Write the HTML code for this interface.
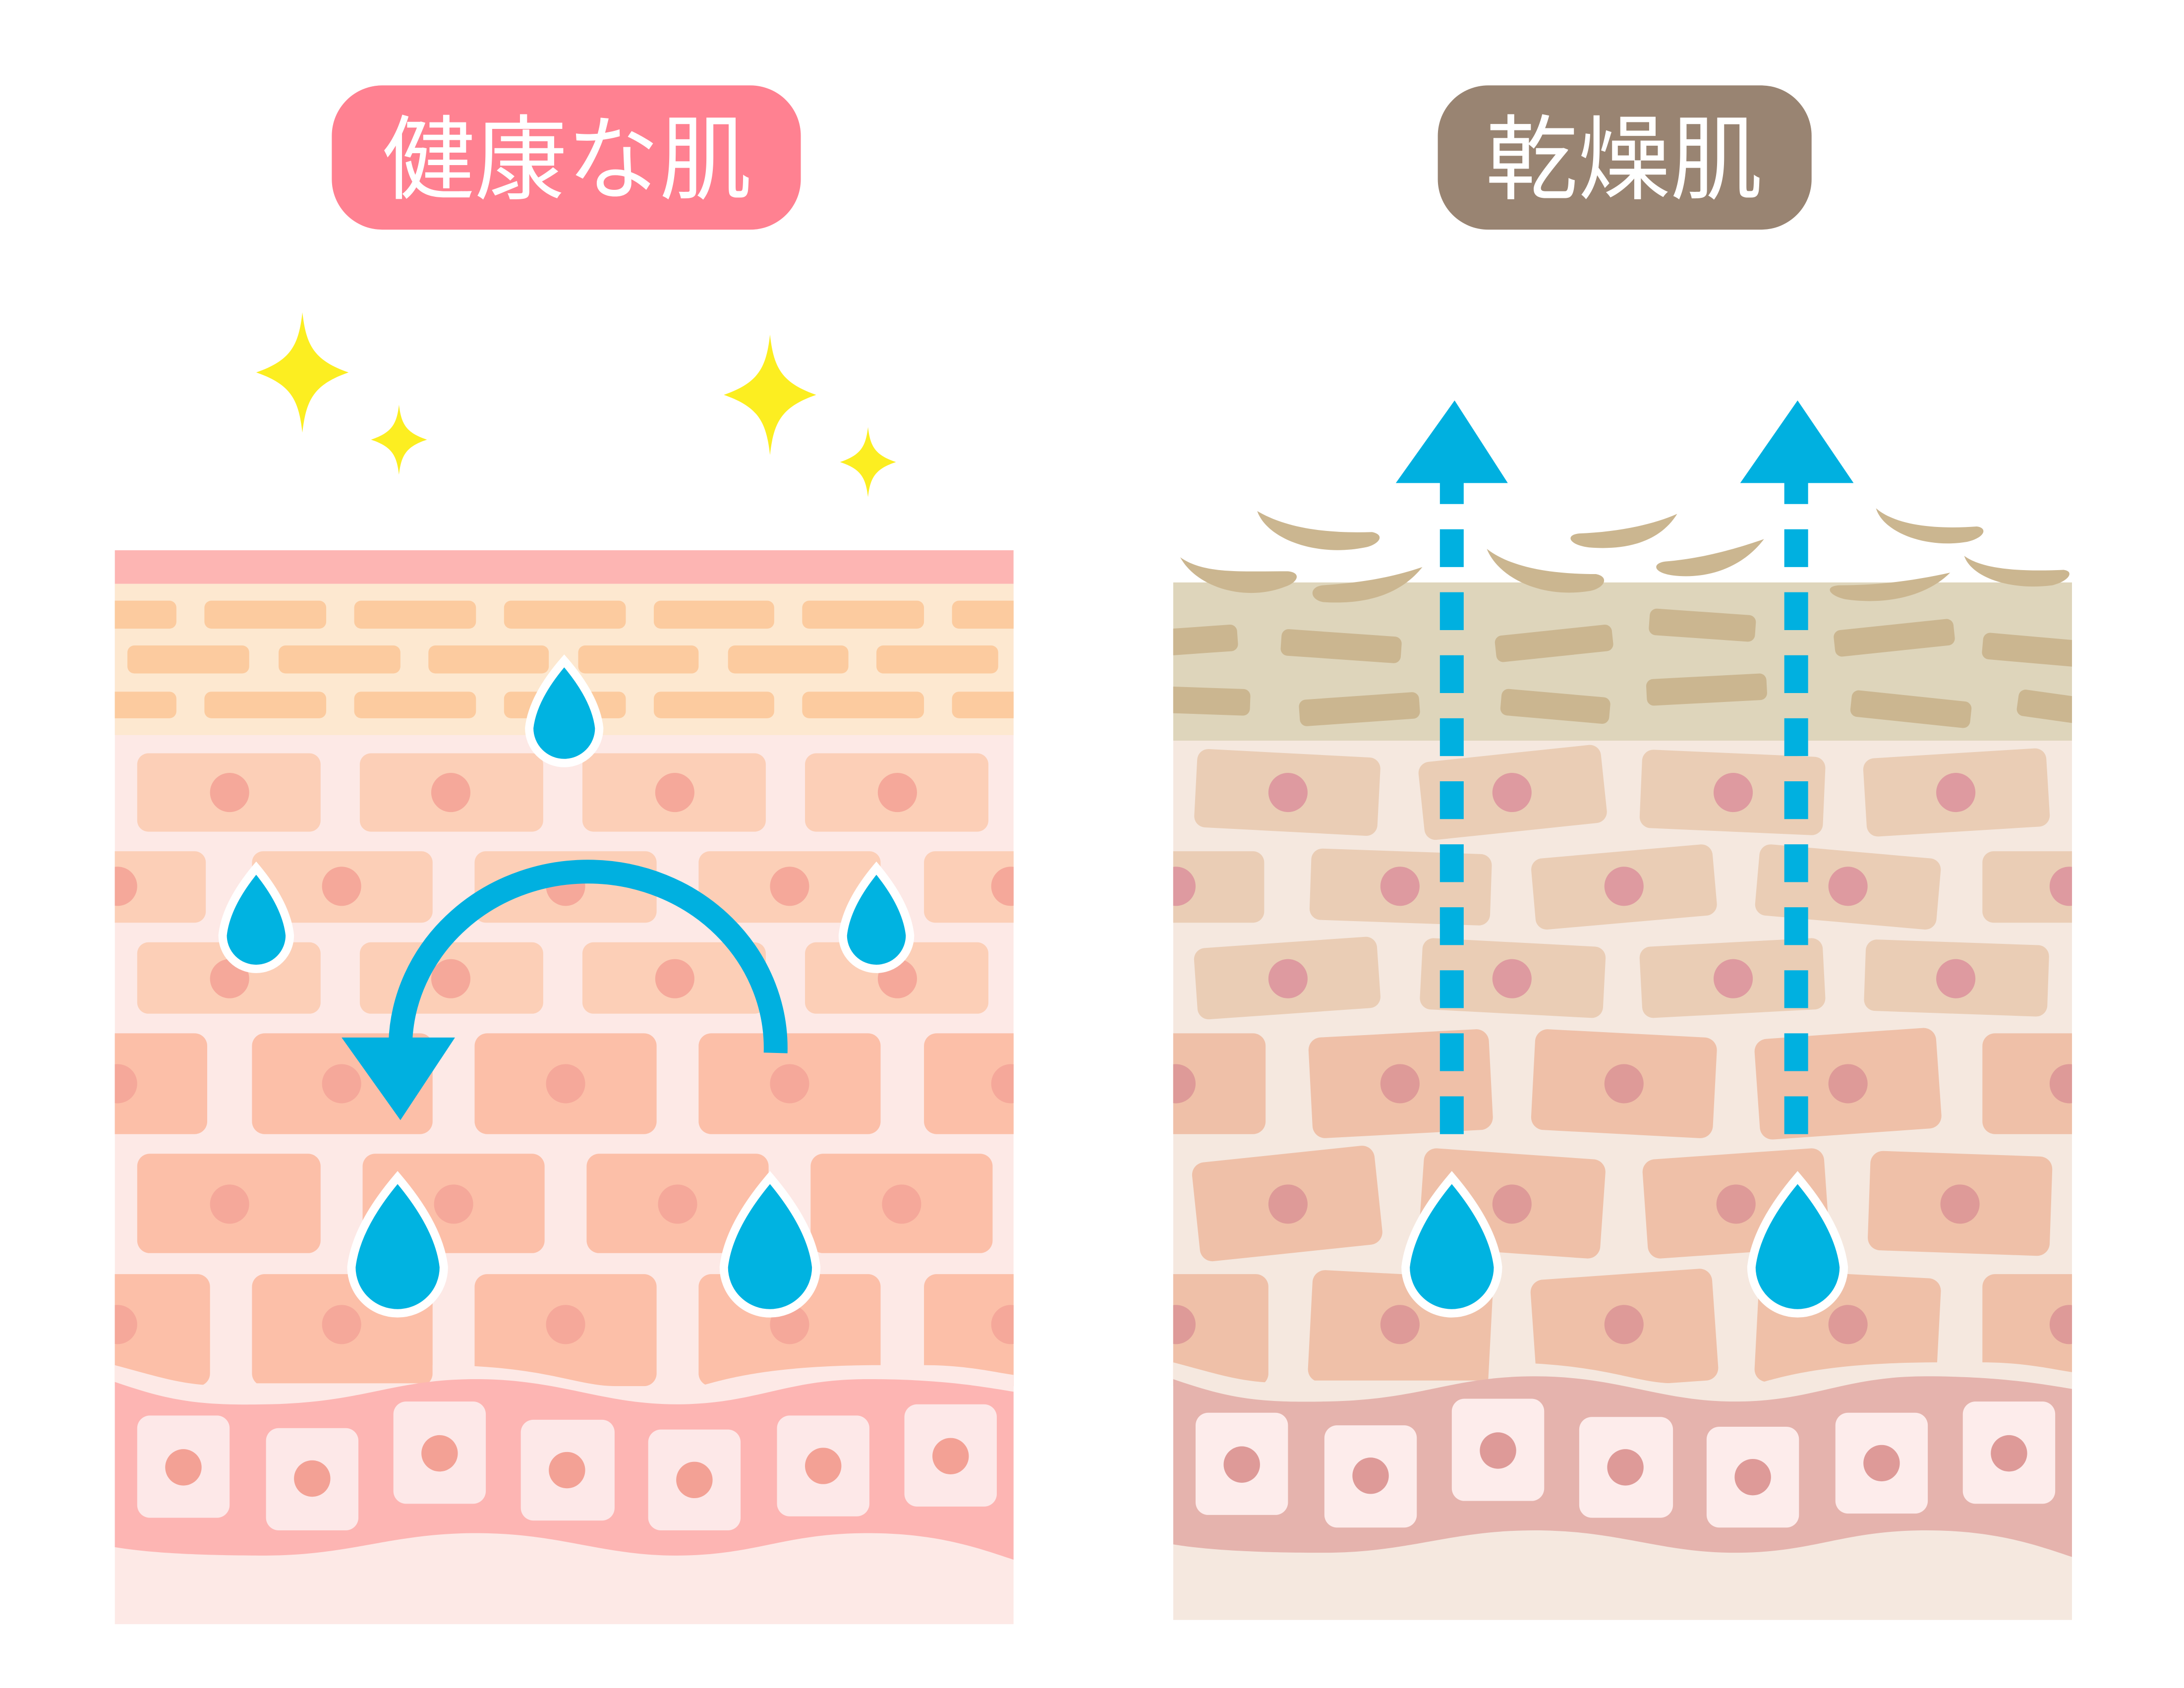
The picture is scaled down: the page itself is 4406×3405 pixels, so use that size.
<!DOCTYPE html>
<html><head><meta charset="utf-8"><style>
html,body{margin:0;padding:0;background:#fff}
svg{display:block}
text{font-family:"Liberation Sans","Noto Sans CJK JP",sans-serif}
</style></head><body>
<svg width="4406" height="3405" viewBox="0 0 1560 1205.6" preserveAspectRatio="none" xmlns="http://www.w3.org/2000/svg">
<defs>
<clipPath id="cl"><rect x="82" y="380" width="642" height="790"/></clipPath>
<clipPath id="cr"><rect x="838" y="410" width="642" height="760"/></clipPath>
<path id="bigdrop" d="M0,841 Q29.7,876 33,905 A33 33 0 0 1 -33,905 Q-29.7,876 0,841Z"/>
<path id="star" d="M0,-1 C0.08,-0.45 0.25,-0.2 1,0 C0.25,0.2 0.08,0.45 0,1 C-0.08,0.45 -0.25,0.2 -1,0 C-0.25,-0.2 -0.08,-0.45 0,-1Z"/>
</defs>
<rect width="1560" height="1205.6" fill="#fff"/>

<!-- Titles -->
<rect x="237" y="61" width="335" height="103" rx="36" fill="#ff8191"/>
<text x="405" y="137" font-size="66" fill="#fff" text-anchor="middle" font-family="Liberation Sans, Noto Sans CJK JP, sans-serif">健康な肌</text>
<rect x="1027" y="61" width="267" height="103" rx="36" fill="#998472"/>
<text x="1160" y="137" font-size="66" fill="#fff" text-anchor="middle" font-family="Liberation Sans, Noto Sans CJK JP, sans-serif">乾燥肌</text>

<!-- Stars -->
<g fill="#fcee21">
<use href="#star" transform="translate(216,266) scale(33,43)"/>
<use href="#star" transform="translate(285,314) scale(20,25)"/>
<use href="#star" transform="translate(550,282) scale(33,43)"/>
<use href="#star" transform="translate(620,330) scale(20,25)"/>
</g>

<!-- LEFT PANEL -->
<g clip-path="url(#cl)">
<rect x="82" y="417" width="642" height="743" fill="#fde9e6"/>
<rect x="82" y="393" width="642" height="24" fill="#fdb5b3"/>
<rect x="82" y="417" width="642" height="108" fill="#fde8d0"/>
<g fill="#fccb9f">
<rect x="70" y="429" width="56" height="20" rx="5"/><rect x="146" y="429" width="87" height="20" rx="5"/><rect x="253" y="429" width="87" height="20" rx="5"/><rect x="360" y="429" width="87" height="20" rx="5"/><rect x="467" y="429" width="86" height="20" rx="5"/><rect x="573" y="429" width="87" height="20" rx="5"/><rect x="680" y="429" width="60" height="20" rx="5"/>
<rect x="91" y="461" width="87" height="20" rx="5"/><rect x="199" y="461" width="87" height="20" rx="5"/><rect x="306" y="461" width="86" height="20" rx="5"/><rect x="413" y="461" width="86" height="20" rx="5"/><rect x="520" y="461" width="86" height="20" rx="5"/><rect x="626" y="461" width="87" height="20" rx="5"/>
<rect x="70" y="494" width="56" height="19" rx="5"/><rect x="146" y="494" width="87" height="19" rx="5"/><rect x="253" y="494" width="87" height="19" rx="5"/><rect x="360" y="494" width="87" height="19" rx="5"/><rect x="467" y="494" width="86" height="19" rx="5"/><rect x="573" y="494" width="87" height="19" rx="5"/><rect x="680" y="494" width="60" height="19" rx="5"/>
</g>
<g fill="#fccfb7">
<rect x="98" y="538" width="131" height="56" rx="8"/><rect x="257" y="538" width="131" height="56" rx="8"/><rect x="416" y="538" width="131" height="56" rx="8"/><rect x="575" y="538" width="131" height="56" rx="8"/>
<rect x="70" y="608" width="77" height="51" rx="8"/><rect x="180" y="608" width="129" height="51" rx="8"/><rect x="339" y="608" width="130" height="51" rx="8"/><rect x="499" y="608" width="130" height="51" rx="8"/><rect x="660" y="608" width="80" height="51" rx="8"/>
<rect x="98" y="673" width="131" height="51" rx="8"/><rect x="257" y="673" width="131" height="51" rx="8"/><rect x="416" y="673" width="131" height="51" rx="8"/><rect x="575" y="673" width="131" height="51" rx="8"/>
</g>
<g fill="#fcbfa8">
<rect x="70" y="738" width="78" height="72" rx="9"/><rect x="180" y="738" width="129" height="72" rx="9"/><rect x="339" y="738" width="130" height="72" rx="9"/><rect x="499" y="738" width="130" height="72" rx="9"/><rect x="660" y="738" width="80" height="72" rx="9"/>
<rect x="98" y="824" width="131" height="71" rx="9"/><rect x="259" y="824" width="130" height="71" rx="9"/><rect x="419" y="824" width="130" height="71" rx="9"/><rect x="579" y="824" width="130" height="71" rx="9"/>
<rect x="70" y="910" width="80" height="80" rx="9"/><rect x="180" y="910" width="129" height="80" rx="9"/><rect x="339" y="910" width="130" height="80" rx="9"/><rect x="499" y="910" width="130" height="80" rx="9"/><rect x="660" y="910" width="80" height="80" rx="9"/>
</g>
<g fill="#f5a89a">
<circle cx="164" cy="566" r="14"/><circle cx="322" cy="566" r="14"/><circle cx="482" cy="566" r="14"/><circle cx="641" cy="566" r="14"/>
<circle cx="84" cy="633" r="14"/><circle cx="244" cy="633" r="14"/><circle cx="404" cy="633" r="14"/><circle cx="564" cy="633" r="14"/><circle cx="722" cy="633" r="14"/>
<circle cx="164" cy="699" r="14"/><circle cx="322" cy="699" r="14"/><circle cx="482" cy="699" r="14"/><circle cx="641" cy="699" r="14"/>
<circle cx="84" cy="774" r="14"/><circle cx="244" cy="774" r="14"/><circle cx="404" cy="774" r="14"/><circle cx="564" cy="774" r="14"/><circle cx="722" cy="774" r="14"/>
<circle cx="164" cy="860" r="14"/><circle cx="324" cy="860" r="14"/><circle cx="484" cy="860" r="14"/><circle cx="644" cy="860" r="14"/>
<circle cx="84" cy="946" r="14"/><circle cx="244" cy="946" r="14"/><circle cx="404" cy="946" r="14"/><circle cx="564" cy="946" r="14"/><circle cx="722" cy="946" r="14"/>
</g>
<path d="M82,975 C120,985 140,993 180,988 L309,988 L309,975 C390,975 410,990 440,990 L469,990 L499,990 C510,988 540,975 629,975 L660,975 C690,975 710,980 724,982 L724,1010 L82,1010Z" fill="#fde9e6"/>
<path d="M82,987 C120,1000 140,1004 190,1003 C260,1002 280,985 340,985 C400,985 430,1003 483,1003 C540,1003 560,985 620,985 C670,985 700,990 724,994 L724,1114 C700,1106 670,1095 620,1095 C560,1095 540,1111 483,1111 C430,1111 400,1095 340,1095 C280,1095 250,1111 190,1111 C130,1111 100,1108 82,1105Z" fill="#fdb5b3"/>
<g fill="#fde8e8">
<rect x="98" y="1011" width="66" height="73" rx="9"/><rect x="190" y="1020" width="66" height="73" rx="9"/><rect x="281" y="1001" width="66" height="73" rx="9"/><rect x="372" y="1014" width="67" height="72" rx="9"/><rect x="463" y="1021" width="66" height="72" rx="9"/><rect x="555" y="1011" width="66" height="72" rx="9"/><rect x="646" y="1003" width="66" height="73" rx="9"/>
</g>
<g fill="#f3a195">
<circle cx="131" cy="1048" r="13"/><circle cx="223" cy="1056" r="13"/><circle cx="314" cy="1038" r="13"/><circle cx="405" cy="1050" r="13"/><circle cx="496" cy="1057" r="13"/><circle cx="588" cy="1047" r="13"/><circle cx="679" cy="1040" r="13"/>
</g>
</g>

<!-- left curved arrow -->
<path d="M286,745 A134 126 0 0 1 554,752" fill="none" stroke="#00b0e0" stroke-width="17"/>
<polygon points="244,741 325,741 286,800" fill="#00b0e0"/>

<!-- left drops -->
<g fill="#00b3e1" stroke="#fff" stroke-width="6">
<path d="M403,472 Q425.5,498 428,520 A25,25 0 0 1 378,520 Q380.5,498 403,472Z"/>
<path d="M183,620 Q204.6,646 207,668 A24 24 0 0 1 159,668 Q161.4,646 183,620Z"/>
<path d="M626,620 Q647.6,646 650,668 A24 24 0 0 1 602,668 Q604.4,646 626,620Z"/>
<use href="#bigdrop" transform="translate(284,0)"/>
<use href="#bigdrop" transform="translate(550,0)"/>
</g>

<!-- RIGHT PANEL -->
<g clip-path="url(#cr)">
<rect x="838" y="416" width="642" height="741" fill="#f5e8df"/>
<rect x="838" y="416" width="642" height="113" fill="#ded5bb"/>
<g fill="#cbb690">
<rect x="820" y="448" width="64" height="19" rx="5" transform="rotate(-4 852 457)"/>
<rect x="915" y="452" width="86" height="19" rx="5" transform="rotate(4 958 461)"/>
<rect x="1068" y="450" width="84" height="19" rx="5" transform="rotate(-6 1110 459)"/>
<rect x="1178" y="437" width="76" height="19" rx="5" transform="rotate(4 1216 446)"/>
<rect x="1310" y="446" width="86" height="19" rx="5" transform="rotate(-6 1353 455)"/>
<rect x="1416" y="455" width="80" height="19" rx="5" transform="rotate(5 1456 464)"/>
<rect x="820" y="491" width="73" height="19" rx="5" transform="rotate(2 856 500)"/>
<rect x="928" y="497" width="86" height="19" rx="5" transform="rotate(-4 971 506)"/>
<rect x="1072" y="495" width="78" height="19" rx="5" transform="rotate(5 1111 504)"/>
<rect x="1176" y="483" width="86" height="19" rx="5" transform="rotate(-3 1219 492)"/>
<rect x="1322" y="497" width="86" height="19" rx="5" transform="rotate(6 1365 506)"/>
<rect x="1441" y="496" width="60" height="19" rx="5" transform="rotate(8 1471 505)"/>
</g>
<g fill="#eacdb5">
<g transform="rotate(3 920 566)"><rect x="854" y="538" width="131" height="56" rx="8"/><circle cx="920" cy="566" r="14" fill="#de9aa0"/></g>
<g transform="rotate(-6 1080 566)"><rect x="1015" y="538" width="131" height="56" rx="8"/><circle cx="1080" cy="566" r="14" fill="#de9aa0"/></g>
<g transform="rotate(2.5 1238 566)"><rect x="1172" y="538" width="131" height="56" rx="8"/><circle cx="1238" cy="566" r="14" fill="#de9aa0"/></g>
<g transform="rotate(-3.5 1397 566)"><rect x="1332" y="538" width="131" height="56" rx="8"/><circle cx="1397" cy="566" r="14" fill="#de9aa0"/></g>
<g><rect x="826" y="608" width="77" height="51" rx="8"/><circle cx="840" cy="633" r="14" fill="#de9aa0"/></g>
<g transform="rotate(2 1000 633)"><rect x="936" y="608" width="129" height="51" rx="8"/><circle cx="1000" cy="633" r="14" fill="#de9aa0"/></g>
<g transform="rotate(-5 1160 633)"><rect x="1095" y="608" width="130" height="51" rx="8"/><circle cx="1160" cy="633" r="14" fill="#de9aa0"/></g>
<g transform="rotate(5 1320 633)"><rect x="1255" y="608" width="130" height="51" rx="8"/><circle cx="1320" cy="633" r="14" fill="#de9aa0"/></g>
<g><rect x="1416" y="608" width="80" height="51" rx="8"/><circle cx="1478" cy="633" r="14" fill="#de9aa0"/></g>
<g transform="rotate(-4 920 699)"><rect x="854" y="673" width="131" height="51" rx="8"/><circle cx="920" cy="699" r="14" fill="#de9aa0"/></g>
<g transform="rotate(3 1080 699)"><rect x="1015" y="673" width="131" height="51" rx="8"/><circle cx="1080" cy="699" r="14" fill="#de9aa0"/></g>
<g transform="rotate(-3 1238 699)"><rect x="1172" y="673" width="131" height="51" rx="8"/><circle cx="1238" cy="699" r="14" fill="#de9aa0"/></g>
<g transform="rotate(2 1397 699)"><rect x="1332" y="673" width="131" height="51" rx="8"/><circle cx="1397" cy="699" r="14" fill="#de9aa0"/></g>
</g>
<g fill="#efc0a8">
<g><rect x="826" y="738" width="78" height="72" rx="9"/><circle cx="840" cy="774" r="14" fill="#de9a98"/></g>
<g transform="rotate(-3 1000 774)"><rect x="936" y="738" width="129" height="72" rx="9"/><circle cx="1000" cy="774" r="14" fill="#de9a98"/></g>
<g transform="rotate(3 1160 774)"><rect x="1095" y="738" width="130" height="72" rx="9"/><circle cx="1160" cy="774" r="14" fill="#de9a98"/></g>
<g transform="rotate(-4 1320 774)"><rect x="1255" y="738" width="130" height="72" rx="9"/><circle cx="1320" cy="774" r="14" fill="#de9a98"/></g>
<g><rect x="1416" y="738" width="80" height="72" rx="9"/><circle cx="1478" cy="774" r="14" fill="#de9a98"/></g>
<g transform="rotate(-6 920 860)"><rect x="854" y="824" width="131" height="71" rx="9"/><circle cx="920" cy="860" r="14" fill="#de9a98"/></g>
<g transform="rotate(4 1080 860)"><rect x="1015" y="824" width="130" height="71" rx="9"/><circle cx="1080" cy="860" r="14" fill="#de9a98"/></g>
<g transform="rotate(-4 1240 860)"><rect x="1175" y="824" width="130" height="71" rx="9"/><circle cx="1240" cy="860" r="14" fill="#de9a98"/></g>
<g transform="rotate(2 1400 860)"><rect x="1335" y="824" width="130" height="71" rx="9"/><circle cx="1400" cy="860" r="14" fill="#de9a98"/></g>
<g><rect x="826" y="910" width="80" height="80" rx="9"/><circle cx="840" cy="946" r="14" fill="#de9a98"/></g>
<g transform="rotate(3 1000 946)"><rect x="936" y="910" width="129" height="80" rx="9"/><circle cx="1000" cy="946" r="14" fill="#de9a98"/></g>
<g transform="rotate(-4 1160 946)"><rect x="1095" y="910" width="130" height="80" rx="9"/><circle cx="1160" cy="946" r="14" fill="#de9a98"/></g>
<g transform="rotate(3 1320 946)"><rect x="1255" y="910" width="130" height="80" rx="9"/><circle cx="1320" cy="946" r="14" fill="#de9a98"/></g>
<g><rect x="1416" y="910" width="80" height="80" rx="9"/><circle cx="1478" cy="946" r="14" fill="#de9a98"/></g>
</g>
<path d="M838,973 C876,983 896,991 936,986 L1065,986 L1065,973 C1146,973 1166,988 1196,988 L1255,988 C1266,986 1296,973 1385,973 L1416,973 C1446,973 1466,978 1480,980 L1480,1008 L838,1008Z" fill="#f5e8df"/>
<path d="M838,985 C876,998 896,1002 946,1001 C1016,1000 1036,983 1096,983 C1156,983 1186,1001 1239,1001 C1296,1001 1316,983 1376,983 C1426,983 1456,988 1480,992 L1480,1112 C1456,1104 1426,1093 1376,1093 C1316,1093 1296,1109 1239,1109 C1186,1109 1156,1093 1096,1093 C1036,1093 1006,1109 946,1109 C886,1109 856,1106 838,1103Z" fill="#e5b3ad"/>
<g fill="#fdeceb">
<rect x="854" y="1009" width="66" height="73" rx="9"/><rect x="946" y="1018" width="66" height="73" rx="9"/><rect x="1037" y="999" width="66" height="73" rx="9"/><rect x="1128" y="1012" width="67" height="72" rx="9"/><rect x="1219" y="1019" width="66" height="72" rx="9"/><rect x="1311" y="1009" width="66" height="72" rx="9"/><rect x="1402" y="1001" width="66" height="73" rx="9"/>
</g>
<g fill="#de9a98">
<circle cx="887" cy="1046" r="13"/><circle cx="979" cy="1054" r="13"/><circle cx="1070" cy="1036" r="13"/><circle cx="1161" cy="1048" r="13"/><circle cx="1252" cy="1055" r="13"/><circle cx="1344" cy="1045" r="13"/><circle cx="1435" cy="1038" r="13"/>
</g>
</g>

<!-- flakes -->
<g fill="#cbb690">
<path d="M843,398 C860,410 885,408 920,408 C930,409 927,416 918,419 C890,430 855,420 843,398Z"/>
<path d="M898,365 C920,378 950,381 980,380 C990,382 985,389 975,391 C940,398 905,385 898,365Z"/>
<path d="M1016,405 C1000,425 975,432 945,430 C935,428 935,419 945,418 C975,416 995,412 1016,405Z"/>
<path d="M1062,392 C1080,406 1110,410 1140,410 C1150,412 1146,420 1136,422 C1100,428 1070,412 1062,392Z"/>
<path d="M1198,367 C1185,388 1160,393 1135,391 C1120,389 1118,382 1128,381 C1155,380 1180,375 1198,367Z"/>
<path d="M1260,385 C1245,405 1220,414 1195,411 C1180,409 1180,402 1190,401 C1215,399 1240,392 1260,385Z"/>
<path d="M1393,409 C1375,427 1345,432 1318,428 C1305,425 1303,418 1315,418 C1345,418 1370,414 1393,409Z"/>
<path d="M1340,363 C1355,376 1385,378 1412,376 C1420,377 1418,384 1405,387 C1375,392 1345,380 1340,363Z"/>
<path d="M1403,397 C1418,408 1450,408 1474,407 C1482,408 1478,415 1466,418 C1435,422 1408,412 1403,397Z"/>
</g>

<!-- dashed arrows -->
<g stroke="#00b0e0" stroke-width="17" stroke-dasharray="27 18">
<line x1="1037" y1="333" x2="1037" y2="813"/>
<line x1="1283" y1="333" x2="1283" y2="813"/>
</g>
<g fill="#00b0e0">
<polygon points="1039,286 1077,345 997,345"/>
<polygon points="1284,286 1324,345 1243,345"/>
</g>
<g fill="#00b3e1" stroke="#fff" stroke-width="6">
<use href="#bigdrop" transform="translate(1037,0)"/>
<use href="#bigdrop" transform="translate(1284,0)"/>
</g>
</svg>
</body></html>
